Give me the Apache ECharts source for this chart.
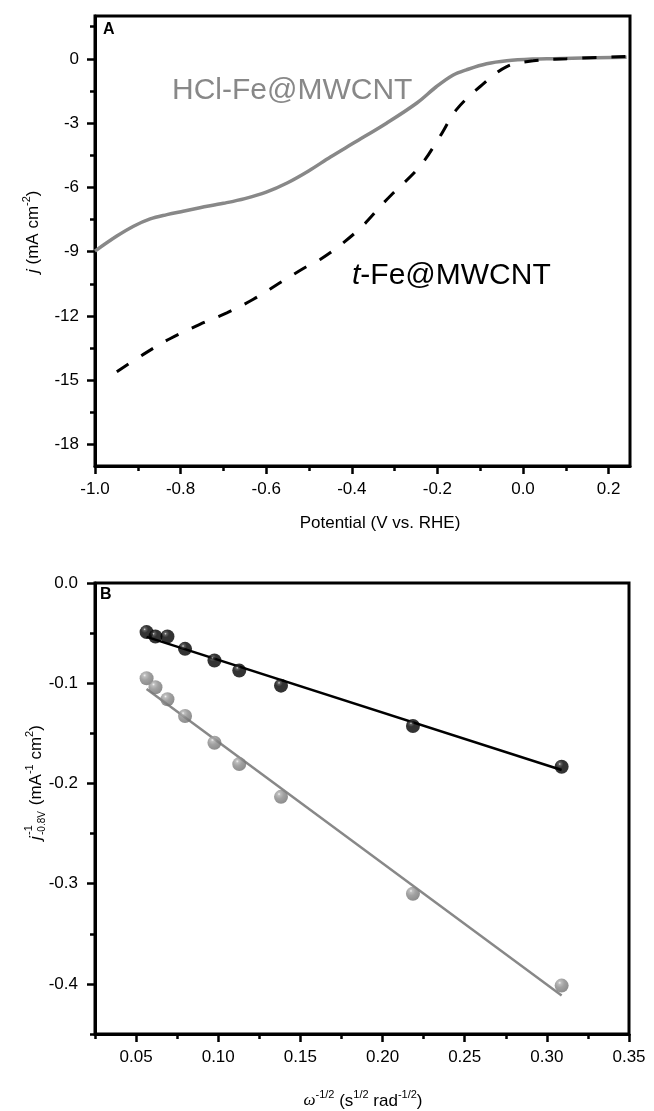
<!DOCTYPE html>
<html>
<head>
<meta charset="utf-8">
<script src="https://cdn.jsdelivr.net/npm/echarts@6/dist/echarts.min.js"></script>
<style>
html,body{margin:0;padding:0;background:#fff;}
#chart{width:654px;height:1111px;}
</style>
</head>
<body>
<div id="chart"></div>
<script>
// ---------- Panel A data ----------
const hclPotential = [-1.0, -0.949, -0.91, -0.871, -0.832, -0.794, -0.755, -0.70, -0.65, -0.60, -0.55, -0.50, -0.45, -0.396, -0.318, -0.248, -0.202, -0.163, -0.132, -0.085, -0.038, 0.024, 0.071, 0.242];
const hclCurrent   = [-8.97, -8.27, -7.81, -7.47, -7.27, -7.11, -6.95, -6.74, -6.52, -6.22, -5.78, -5.22, -4.58, -3.93, -2.99, -2.06, -1.29, -0.75, -0.51, -0.23, -0.09, -0.01, 0.01, 0.08];
const tPotential = [-0.949, -0.887, -0.825, -0.755, -0.692, -0.630, -0.568, -0.506, -0.474, -0.428, -0.376, -0.327, -0.303, -0.241, -0.194, -0.156, -0.100, -0.038, 0.024, 0.102, 0.242];
const tCurrent   = [-14.6, -13.79, -13.06, -12.39, -11.85, -11.22, -10.45, -9.70, -9.36, -8.71, -7.82, -6.75, -6.26, -5.02, -3.62, -2.38, -1.29, -0.36, -0.09, 0.01, 0.11];
const aXTicks = [-1.0, -0.8, -0.6, -0.4, -0.2, 0.0, 0.2];
const aXMinor = [-0.9, -0.7, -0.5, -0.3, -0.1, 0.1];
const aYTicks = [0, -3, -6, -9, -12, -15, -18];
const aYMinor = [1.5, -1.5, -4.5, -7.5, -10.5, -13.5, -16.5];

// ---------- Panel B data ----------
const omegaInv = [0.0564, 0.0618, 0.0691, 0.0798, 0.0977, 0.1128, 0.1382, 0.2185, 0.3090];
const tFeInvJ  = [-0.049, -0.0534, -0.0534, -0.0657, -0.0774, -0.0874, -0.1024, -0.1427, -0.1834];
const hclInvJ  = [-0.095, -0.104, -0.116, -0.1327, -0.1594, -0.1807, -0.2134, -0.310, -0.4017];
const tFeFitX = [0.0564, 0.309];
const tFeFitY = [-0.0538, -0.1866];
const hclFitX = [0.0564, 0.309];
const hclFitY = [-0.1058, -0.4117];
const bXTicks = [0.05, 0.10, 0.15, 0.20, 0.25, 0.30, 0.35];
const bXMinor = [0.025, 0.075, 0.125, 0.175, 0.225, 0.275, 0.325];
const bYTicks = [0.0, -0.1, -0.2, -0.3, -0.4];
const bYMinor = [-0.05, -0.15, -0.25, -0.35, -0.45];

const FONT = "'Liberation Sans', Arial, sans-serif";
const GRAY = '#888888';

function zip(a, b) { return a.map((v, i) => [v, b[i]]); }

function majorAxis(grid, min, max, ticks, fmt, pos, margin) {
  return {
    gridIndex: grid, type: 'value', min: min, max: max, position: pos,
    axisLine: { show: true, onZero: false, lineStyle: { color: '#000', width: 3 } },
    axisTick: { show: true, inside: false, length: 8, customValues: ticks, lineStyle: { color: '#000', width: 2.5 } },
    axisLabel: { show: true, customValues: ticks, formatter: fmt, margin: margin, color: '#000', fontSize: 17, fontFamily: FONT },
    splitLine: { show: false }
  };
}
function minorAxis(grid, min, max, ticks, pos) {
  return {
    gridIndex: grid, type: 'value', min: min, max: max, position: pos,
    axisLine: { show: false, onZero: false },
    axisTick: { show: true, inside: false, length: 5, customValues: ticks, lineStyle: { color: '#000', width: 2.5 } },
    axisLabel: { show: false },
    splitLine: { show: false }
  };
}

const f1 = v => Number(v).toFixed(1);
const f2 = v => Number(v).toFixed(2);
const f0 = v => String(Math.round(v));

function ball(stops) {
  return { type: 'radial', x: 0.36, y: 0.3, r: 0.75,
    colorStops: stops.map(s => ({ offset: s[0], color: s[1] })) };
}

const titleRich = {
  n: { fontSize: 17, fontFamily: FONT, color: '#000', lineHeight: 24, verticalAlign: 'middle' },
  i: { fontSize: 17, fontFamily: FONT, fontStyle: 'italic', color: '#000', lineHeight: 24, verticalAlign: 'middle' },
  w: { fontSize: 17, fontFamily: "'Liberation Serif', serif", fontStyle: 'italic', color: '#000', lineHeight: 24, verticalAlign: 'middle' },
  s: { fontSize: 11, fontFamily: FONT, color: '#000', lineHeight: 14, verticalAlign: 'top' }
};

const option = {
  animation: false,
  backgroundColor: '#fff',
  grid: [
    { left: 95, top: 16, width: 535, height: 450, show: true, borderColor: '#000', borderWidth: 3, backgroundColor: 'transparent' },
    { left: 95, top: 583, width: 534, height: 451, show: true, borderColor: '#000', borderWidth: 3, backgroundColor: 'transparent' }
  ],
  xAxis: [
    majorAxis(0, -1.0, 0.25, aXTicks, f1, 'bottom', 15),
    minorAxis(0, -1.0, 0.25, aXMinor, 'bottom'),
    majorAxis(1, 0.025, 0.35, bXTicks, f2, 'bottom', 15),
    minorAxis(1, 0.025, 0.35, bXMinor, 'bottom')
  ],
  yAxis: [
    majorAxis(0, -19, 2, aYTicks, f0, 'left', 16),
    minorAxis(0, -19, 2, aYMinor, 'left'),
    majorAxis(1, -0.45, 0.0, bYTicks, f1, 'left', 17),
    minorAxis(1, -0.45, 0.0, bYMinor, 'left')
  ],
  series: [
    { type: 'line', xAxisIndex: 0, yAxisIndex: 0, data: zip(hclPotential, hclCurrent), smooth: 0.35, showSymbol: false,
      lineStyle: { color: GRAY, width: 3.5 }, z: 3 },
    { type: 'line', xAxisIndex: 0, yAxisIndex: 0, data: zip(tPotential, tCurrent), smooth: 0.35, showSymbol: false,
      lineStyle: { color: '#000', width: 3, type: [14, 15] }, z: 4 },
    { type: 'line', xAxisIndex: 2, yAxisIndex: 2, data: zip(tFeFitX, tFeFitY), showSymbol: false,
      lineStyle: { color: '#000', width: 2.5 }, z: 3 },
    { type: 'line', xAxisIndex: 2, yAxisIndex: 2, data: zip(hclFitX, hclFitY), showSymbol: false,
      lineStyle: { color: GRAY, width: 2.5 }, z: 3 },
    { type: 'scatter', xAxisIndex: 2, yAxisIndex: 2, data: zip(omegaInv, tFeInvJ), symbolSize: 14,
      itemStyle: { color: ball([[0, '#d8d8d8'], [0.12, '#3a3a3a'], [0.35, '#000'], [1, '#000']]) }, z: 5 },
    { type: 'scatter', xAxisIndex: 2, yAxisIndex: 2, data: zip(omegaInv, hclInvJ), symbolSize: 14,
      itemStyle: { color: ball([[0, '#eeeeee'], [0.15, '#acacac'], [0.45, '#8a8a8a'], [1, '#6e6e6e']]) }, z: 5 }
  ],
  graphic: [
    { type: 'text', left: 103, top: 22, style: { text: 'A', fontSize: 16, fontWeight: 'bold', fontFamily: FONT, fill: '#000' } },
    { type: 'text', left: 100, top: 587, style: { text: 'B', fontSize: 16, fontWeight: 'bold', fontFamily: FONT, fill: '#000' } },
    { type: 'text', x: 172, y: 91, style: { text: 'HCl-Fe@MWCNT', fill: GRAY, fontSize: 30, fontFamily: FONT, textVerticalAlign: 'middle' } },
    { type: 'text', x: 352, y: 276, style: { text: '{i|t}{n|-Fe@MWCNT}', textVerticalAlign: 'middle',
        rich: { i: { fontSize: 30, fontFamily: FONT, fontStyle: 'italic', fill: '#000' }, n: { fontSize: 30, fontFamily: FONT, fill: '#000' } } } },
    // axis titles
    { type: 'text', x: 380, y: 523, style: { text: 'Potential (V vs. RHE)', fill: '#000', fontSize: 17, fontFamily: FONT, textAlign: 'center', textVerticalAlign: 'middle' } },
    { type: 'text', x: 363, y: 1101, style: { text: '{w|ω}{s|-1/2}{n| (s}{s|1/2}{n| rad}{s|-1/2}{n|)}', textAlign: 'center', textVerticalAlign: 'middle', rich: titleRich } },
    { type: 'text', x: 33, y: 273, rotation: Math.PI / 2, style: { text: '{i|j}{n| (mA cm}{s|-2}{n|)}', textAlign: 'left', textVerticalAlign: 'middle', rich: titleRich } },
    { type: 'group', x: 36, y: 840, rotation: Math.PI / 2, children: [
      { type: 'text', x: 0, y: 0, style: { text: 'j', fontSize: 17, fontStyle: 'italic', fontFamily: FONT, fill: '#000', textVerticalAlign: 'middle' } },
      { type: 'text', x: 5, y: -7, style: { text: '-1', fontSize: 11, fontFamily: FONT, fill: '#000', textVerticalAlign: 'middle' } },
      { type: 'text', x: 5, y: 6, style: { text: '-0.8V', fontSize: 10, fontFamily: FONT, fill: '#000', textVerticalAlign: 'middle' } },
      { type: 'text', x: 30, y: 0, style: { text: '{n| (mA}{s|-1}{n| cm}{s|2}{n|)}', textVerticalAlign: 'middle', rich: titleRich } }
    ] }
  ]
};

const chart = echarts.init(document.getElementById('chart'), null, { renderer: 'canvas' });
chart.setOption(option);
</script>
</body>
</html>
